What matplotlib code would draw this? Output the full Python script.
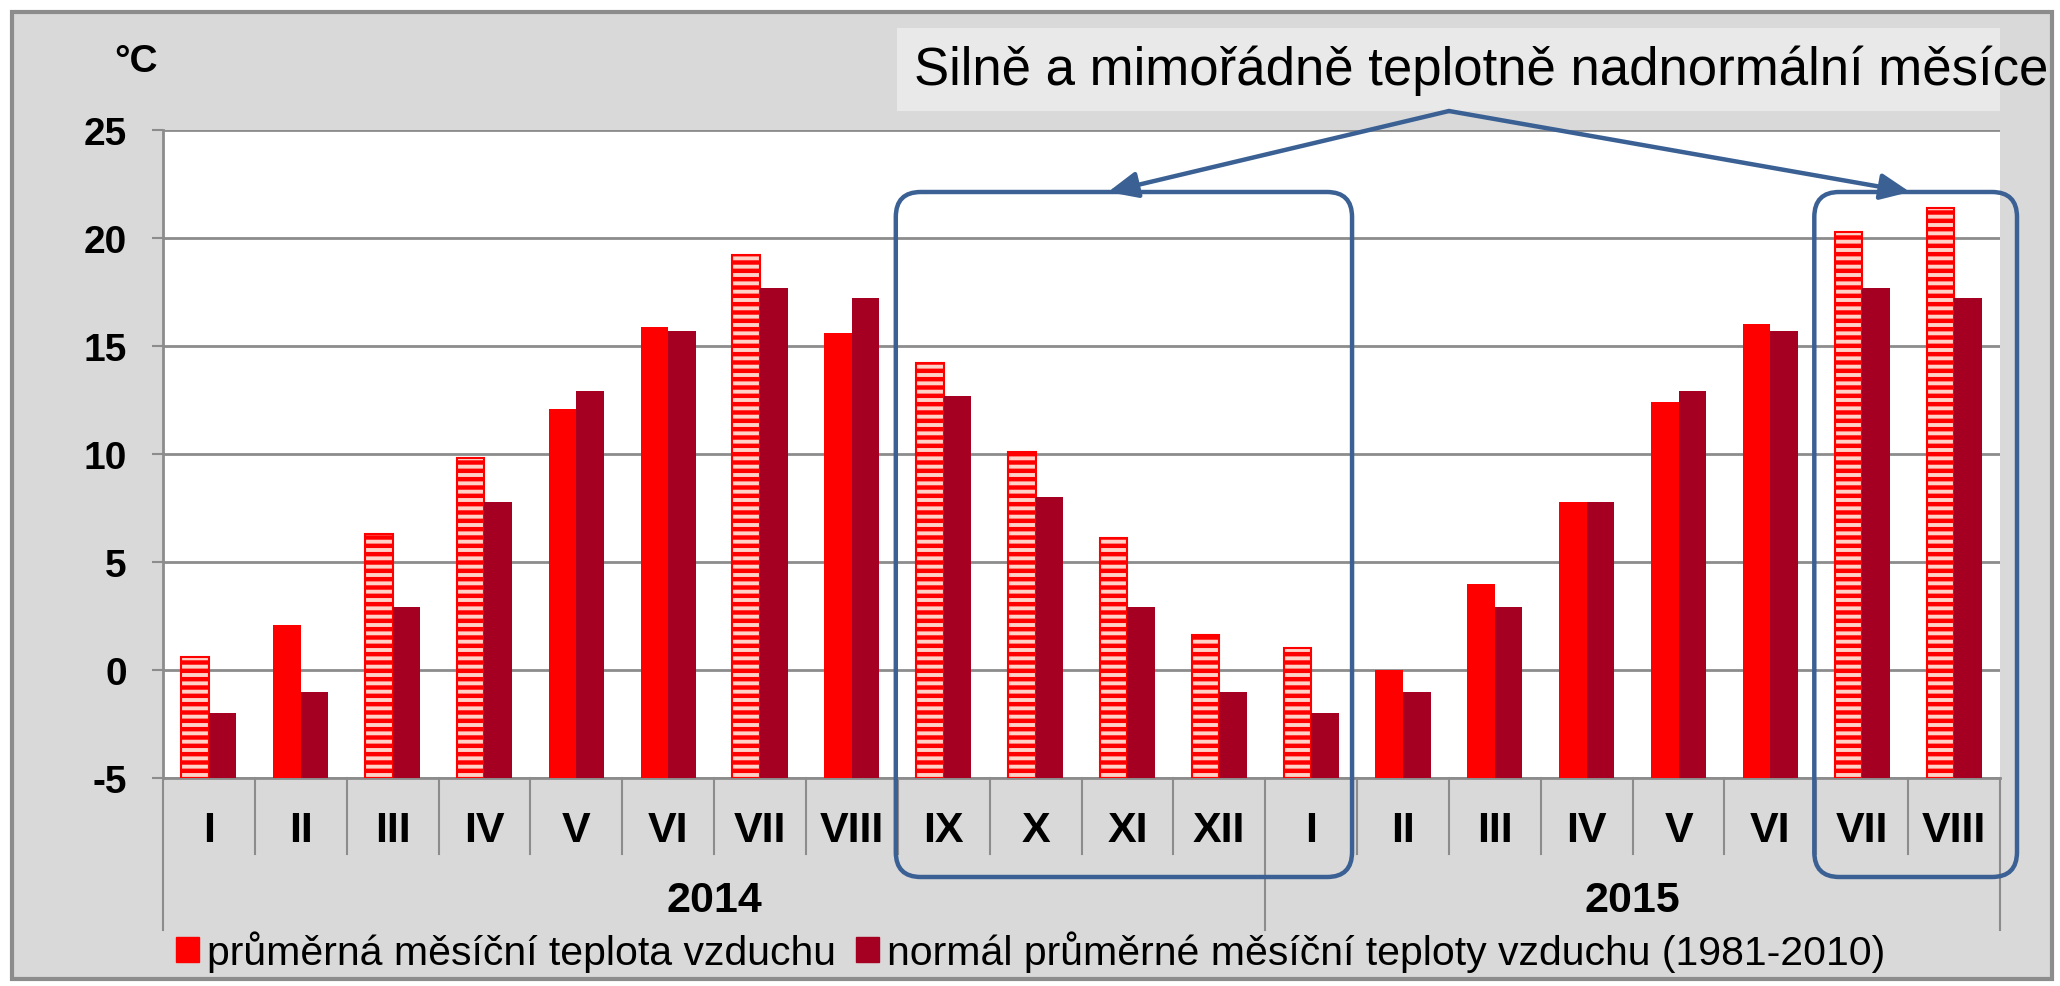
import matplotlib
matplotlib.use("Agg")
import matplotlib.pyplot as plt
from matplotlib.patches import Rectangle, FancyBboxPatch, FancyArrowPatch, Patch
from matplotlib.lines import Line2D

mesice = ["I", "II", "III", "IV", "V", "VI", "VII", "VIII", "IX", "X", "XI", "XII",
          "I", "II", "III", "IV", "V", "VI", "VII", "VIII"]
roky = ["2014", "2015"]
pocet_v_roce = [12, 8]

teplota = [0.6, 2.1, 6.3, 9.8, 12.1, 15.9, 19.2, 15.6, 14.2, 10.1, 6.1, 1.6,
           1.0, 0.0, 4.0, 7.8, 12.4, 16.0, 20.3, 21.4]
normal = [-2.0, -1.0, 2.9, 7.8, 12.9, 15.7, 17.7, 17.2, 12.7, 8.0, 2.9, -1.0,
          -2.0, -1.0, 2.9, 7.8, 12.9, 15.7, 17.7, 17.2]
# mesice nad normalem (srafovane)
nadnormalni = [1, 0, 1, 1, 0, 0, 1, 0, 1, 1, 1, 1, 1, 0, 0, 0, 0, 0, 1, 1]
zvyraznene = [(8, 12), (18, 19)]

W, H = 2060, 987
plt.rcParams['font.family'] = ['Liberation Sans', 'DejaVu Sans']
plt.rcParams['hatch.linewidth'] = 3.2
plt.rcParams['axes.unicode_minus'] = False

RED = "#ff0000"
DARK = "#a50021"
BLUE = "#3a6094"
GRID = "#8c8c8c"

fig = plt.figure(figsize=(W / 100, H / 100), dpi=100)
fig.patch.set_facecolor("white")

def fx(x):
    return x / W

def fy(y):
    return 1 - y / H

# sede pozadi grafu
fig.patches.append(Rectangle((fx(12), fy(980)), fx(2052) - fx(12), fy(13) - fy(980),
                             transform=fig.transFigure, facecolor="#d9d9d9",
                             edgecolor="#8c8c8c", lw=3, zorder=-10))

left, right, top, bottom = 163, 2000, 131, 779
ax = fig.add_axes([fx(left), fy(bottom), fx(right) - fx(left), fy(top) - fy(bottom)])
ax.set_facecolor("white")

x = list(range(len(mesice)))
base = -5
w = 0.3
for i in x:
    if nadnormalni[i]:
        ax.bar(i - w / 2, teplota[i] - base, w, bottom=base, facecolor="#ffd2c8",
               edgecolor=RED, hatch="--", lw=1.5, zorder=3)
    else:
        ax.bar(i - w / 2, teplota[i] - base, w, bottom=base, color=RED, zorder=3)
ax.bar([i + w / 2 for i in x], [v - base for v in normal], w, bottom=base,
       color=DARK, zorder=3)

ax.set_xlim(-0.5, len(mesice) - 0.5)
ax.set_ylim(-5, 25)
ax.set_yticks(range(-5, 26, 5))
ax.yaxis.grid(True, color=GRID, lw=2, zorder=0)
ax.set_axisbelow(True)
for s in ["top", "right"]:
    ax.spines[s].set_visible(False)
for s in ["left", "bottom"]:
    ax.spines[s].set_color(GRID)
    ax.spines[s].set_linewidth(2)
ax.tick_params(axis="y", length=8, width=1.5, color=GRID, pad=18, labelsize=28)
ax.set_xticks(x)
ax.set_xticklabels(mesice, fontsize=31, fontweight="bold")
ax.tick_params(axis="x", length=0, pad=23)
for lab in ax.get_yticklabels():
    lab.set_fontweight("bold")

# oddelovace mesicu a roku pod osou
tr = ax.get_xaxis_transform()
hranice_roku = [-0.5, pocet_v_roce[0] - 0.5, sum(pocet_v_roce) - 0.5]
for i in range(len(mesice) + 1):
    b = i - 0.5
    dlouha = b in hranice_roku
    ax.add_line(Line2D([b, b], [0, -0.234 if dlouha else -0.117], transform=tr,
                       color=GRID, lw=1.5, clip_on=False))
start = 0
for rok, n in zip(roky, pocet_v_roce):
    ax.text(start + (n - 1) / 2, -0.188, rok, transform=tr, ha="center", va="center",
            fontsize=31, fontweight="bold")
    start += n

fig.text(fx(158), fy(62), "°C", ha="right", va="center", fontsize=28, fontweight="bold")

# popisek s sipkami
fig.patches.append(Rectangle((fx(897), fy(112)), fx(2000) - fx(897), fy(29) - fy(112),
                             transform=fig.transFigure, facecolor="#e9e9e9",
                             edgecolor="none", zorder=-5))
fig.text(fx(914), fy(71), "Silně a mimořádně teplotně nadnormální měsíce",
         ha="left", va="center", fontsize=38)

for (a, b) in zvyraznene:
    x0 = left + a * (right - left) / len(mesice) - 2
    x1 = left + (b + 1) * (right - left) / len(mesice) + (17 if b == len(mesice) - 1 else -5)
    fig.patches.append(FancyBboxPatch((x0 / 100, (H - 878) / 100), (x1 - x0) / 100,
                                      (878 - 193) / 100,
                                      boxstyle="round,pad=0,rounding_size=0.25",
                                      transform=fig.dpi_scale_trans, facecolor="none",
                                      edgecolor=BLUE, lw=3.2, zorder=6))

for tip in [(1108, 193), (1910, 193)]:
    fig.add_artist(FancyArrowPatch(
        (fx(1449), fy(112)), (fx(tip[0]), fy(tip[1])), transform=fig.transFigure,
        arrowstyle="-|>,head_length=18,head_width=8", color=BLUE, lw=3.2,
        shrinkA=0, shrinkB=0, zorder=7))

handles = [Patch(color=RED, label="průměrná měsíční teplota vzduchu"),
           Patch(color=DARK, label="normál průměrné měsíční teploty vzduchu (1981-2010)")]
fig.legend(handles=handles, loc="center left", bbox_to_anchor=(fx(176), fy(952)),
           ncol=2, frameon=False, handlelength=0.55, handleheight=0.55,
           handletextpad=0.2, columnspacing=0.5, borderpad=0, borderaxespad=0,
           prop={'size': 29.5})

fig.savefig("out.png", dpi=100)
